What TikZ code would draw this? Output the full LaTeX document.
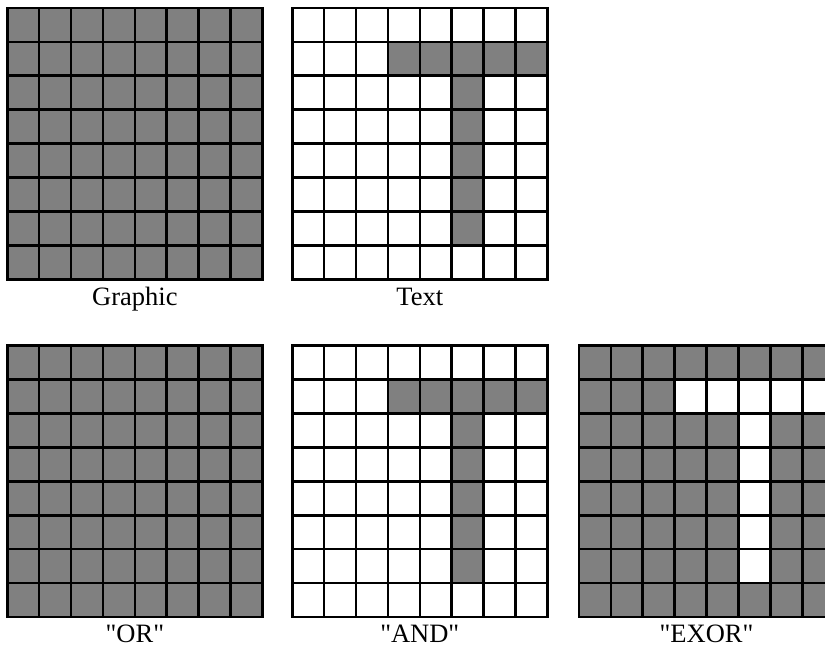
\documentclass[tikz,border=0pt]{standalone}
\usepackage{fontspec}
\setmainfont{Liberation Serif}
\newfontfamily\labelfont{Liberation Serif}
\usetikzlibrary{calc}
\def\cw{31.89}
\def\ch{33.9}
\def\pixcell(#1,#2)(#3,#4){\fill[color=black!50] ({#1+#3*\cw},{#2+#4*\ch}) rectangle ({#1+(#3+1)*\cw},{#2+(#4+1)*\ch});}
\def\pixgrid(#1,#2){%
	\foreach \i in {1,...,7} {
		\draw[line width=2.6pt] ({#1+\i*\cw},#2) -- ({#1+\i*\cw},{#2+8*\ch});
		\draw[line width=2.6pt] (#1,{#2+\i*\ch}) -- ({#1+8*\cw},{#2+\i*\ch});
	}
	\draw[line width=2.8pt] (#1,#2) rectangle ({#1+8*\cw},{#2+8*\ch});}

\begin{document}
\begin{tikzpicture}[x=1pt, y=-1pt]
		%%%%% START %%%%%
		\useasboundingbox (0,0) rectangle (825,647);
		\clip (0,0) rectangle (825,647);
		
		% Graphic
		\fill[color=black!50] (7.3, 8) rectangle ++(255.1, 271.2);
		\pixgrid(7.3,8);
		
		% Text
		\foreach \c in {3,...,7} {\pixcell(292.3,8)(\c,1);}
		\foreach \r in {2,...,6} {\pixcell(292.3,8)(5,\r);}
		\pixgrid(292.3,8);
		
		% OR
		\fill[color=black!50] (7.3, 345.7) rectangle ++(255.1, 271.2);
		\pixgrid(7.3,345.7);
		
		% AND
		\foreach \c in {3,...,7} {\pixcell(292.3,345.7)(\c,1);}
		\foreach \r in {2,...,6} {\pixcell(292.3,345.7)(5,\r);}
		\pixgrid(292.3,345.7);
		
		% EXOR
		\fill[color=black!50] (579, 345.7) rectangle ++(255.1, 271.2);
		\foreach \c in {3,...,7} {\fill[white] ({579+\c*\cw},{345.7+\ch}) rectangle +(\cw,\ch);}
		\foreach \r in {2,...,6} {\fill[white] ({579+5*\cw},{345.7+\r*\ch}) rectangle +(\cw,\ch);}
		\pixgrid(579,345.7);
		
		\node[anchor=base, font=\labelfont\fontsize{26.5}{30}\selectfont] (graphic) at (134.9, 305.5) {Graphic};
		\node[anchor=base, font=\labelfont\fontsize{26.5}{30}\selectfont] (text) at (419.8, 305.5) {Text};
		\node[anchor=base, font=\labelfont\fontsize{26.5}{30}\selectfont] (or) at (134.9, 642.5) {"OR"};
		\node[anchor=base, font=\labelfont\fontsize{26.5}{30}\selectfont] (and) at (419.8, 642.5) {"AND"};
		\node[anchor=base, font=\labelfont\fontsize{26.5}{30}\selectfont] (exor) at (706.5, 642.5) {"EXOR"};
		
		%%%%% END %%%%%
	\end{tikzpicture}
\end{document}
